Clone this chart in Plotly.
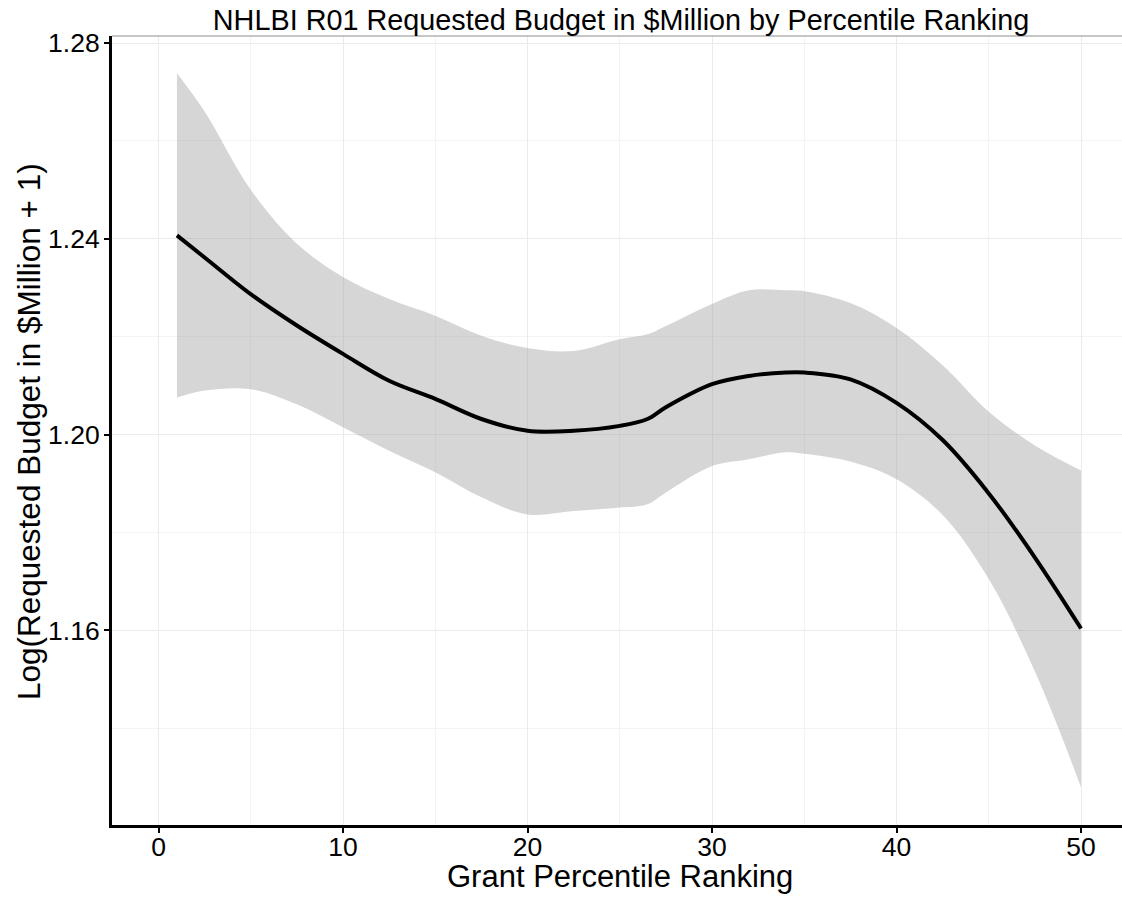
import plotly.graph_objects as go

# Percentile ranking positions where the smooth was read
percentile = [1, 2.5, 5, 7.5, 10, 12.5, 15, 17.5, 20, 22.5, 25, 26.5, 27.5,
              30, 32, 34, 35, 37.5, 40, 42.5, 45, 47.5, 50]
fit = [1.2407, 1.2362, 1.2287, 1.2223, 1.2165, 1.2110, 1.2073, 1.2032, 1.2008,
       1.2008, 1.2018, 1.2032, 1.2056, 1.2103, 1.2120, 1.2127, 1.2127, 1.2113,
       1.2065, 1.1989, 1.1880, 1.1749, 1.1604]
upper = [1.2738, 1.2660, 1.2500, 1.2390, 1.2322, 1.2277, 1.2243, 1.2202, 1.2177,
         1.2171, 1.2195, 1.2205, 1.2222, 1.2267, 1.2295, 1.2295, 1.2293, 1.2269,
         1.2218, 1.2142, 1.2047, 1.1978, 1.1927]
lower = [1.2076, 1.2090, 1.2093, 1.2062, 1.2015, 1.1967, 1.1923, 1.1872, 1.1837,
         1.1844, 1.1851, 1.1858, 1.1882, 1.1936, 1.1950, 1.1964, 1.1961, 1.1945,
         1.1909, 1.1836, 1.1705, 1.1516, 1.1280]

x_ticks = [0, 10, 20, 30, 40, 50]
y_ticks = [1.16, 1.20, 1.24, 1.28]
y_tick_labels = ["1.16", "1.20", "1.24", "1.28"]

title_text = "NHLBI R01 Requested Budget in $Million by Percentile Ranking"
x_title = "Grant Percentile Ranking"
y_title = "Log(Requested Budget in $Million + 1)"

FONT = "Liberation Sans, Arial, Helvetica, sans-serif"

fig = go.Figure()
fig.add_trace(go.Scatter(x=percentile, y=lower, mode="lines",
                         line=dict(width=0, shape="spline"),
                         showlegend=False, hoverinfo="skip"))
fig.add_trace(go.Scatter(x=percentile, y=upper, mode="lines",
                         line=dict(width=0, shape="spline"),
                         fill="tonexty", fillcolor="rgba(153,153,153,0.4)",
                         showlegend=False, hoverinfo="skip"))
fig.add_trace(go.Scatter(x=percentile, y=fit, mode="lines",
                         line=dict(color="black", width=4, shape="spline"),
                         showlegend=False))

fig.update_layout(
    width=1122, height=898,
    margin=dict(l=112, r=0, t=36, b=73, autoexpand=False),
    paper_bgcolor="white", plot_bgcolor="white",
    font=dict(family=FONT, color="black"),
    title=dict(text=title_text, font=dict(size=28.8, color="black"),
               xref="container", yref="container",
               x=621 / 1122, xanchor="center",
               y=1 - 20 / 898, yanchor="middle"),
    xaxis=dict(
        range=[-2.52, 52.22],
        tickvals=x_ticks, ticktext=[str(v) for v in x_ticks],
        tickfont=dict(size=26.5),
        ticks="outside", ticklen=5, tickwidth=1.5, tickcolor="black",
        ticklabelstandoff=-9,
        showline=True, linecolor="black", linewidth=3,
        showgrid=True, gridcolor="#ebebeb", gridwidth=1,
        minor=dict(dtick=5, tick0=0, showgrid=True, gridcolor="#f3f3f3", gridwidth=1),
        zeroline=False, automargin=False,
    ),
    yaxis=dict(
        range=[1.12027, 1.28143],
        tickvals=y_ticks, ticktext=y_tick_labels,
        tickfont=dict(size=26.5),
        ticks="outside", ticklen=5, tickwidth=1.5, tickcolor="black",
        ticklabelstandoff=-1,
        showline=True, linecolor="black", linewidth=3,
        showgrid=True, gridcolor="#ebebeb", gridwidth=1,
        minor=dict(dtick=0.02, tick0=1.16, showgrid=True, gridcolor="#f3f3f3", gridwidth=1),
        zeroline=False, automargin=False,
    ),
    annotations=[
        dict(text=x_title, xref="paper", yref="paper", x=(620 - 112) / 1010, y=0,
             xanchor="center", yanchor="middle", yshift=-51, showarrow=False,
             font=dict(size=31, color="black")),
        dict(text=y_title, xref="paper", yref="paper", x=0, y=(825 - 432) / 789,
             xanchor="center", yanchor="middle", xshift=-83, textangle=-90,
             showarrow=False, font=dict(size=31.5, color="black")),
    ],
    shapes=[dict(type="line", xref="paper", yref="paper", x0=0, x1=1, y0=1, y1=1,
                 line=dict(color="#8c8c8c", width=1))],
)

fig.write_html(
    "out.html",
    config={"displayModeBar": False},
    post_script="document.body.style.margin='0';document.body.style.overflow='hidden';",
)
